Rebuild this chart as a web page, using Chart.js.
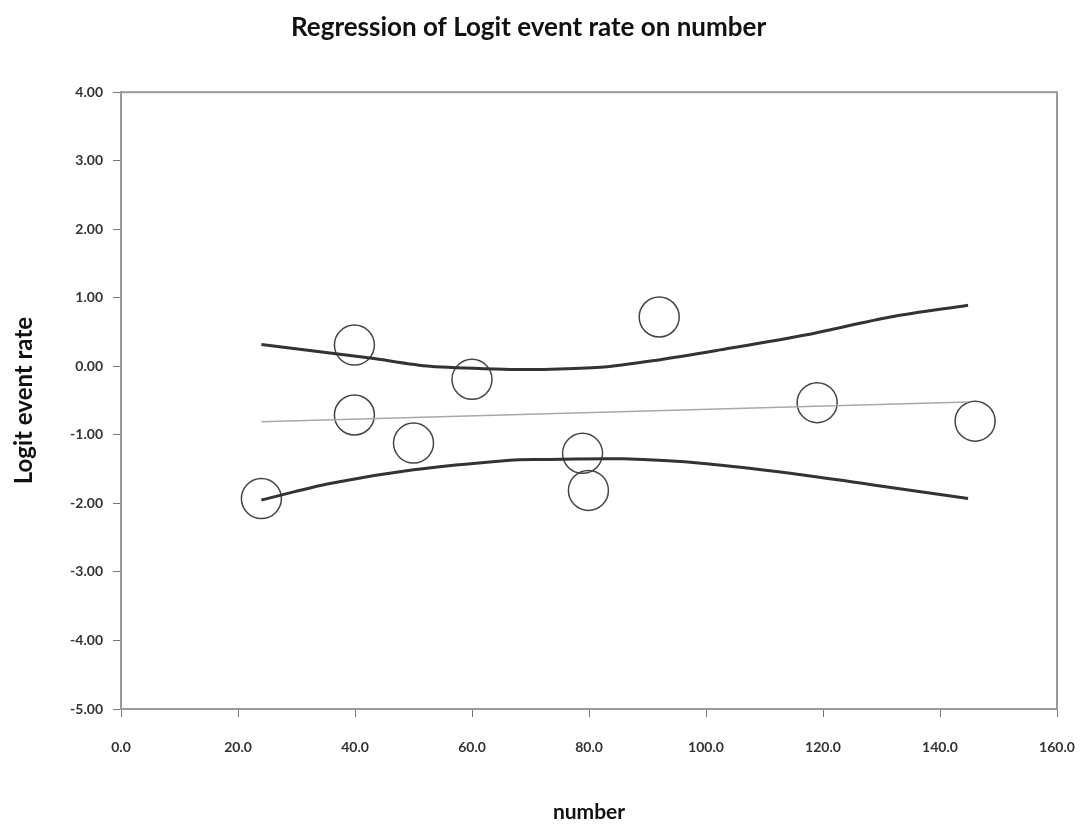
<!DOCTYPE html>
<html>
<head>
<meta charset="utf-8">
<title>Regression of Logit event rate on number</title>
<script src="https://cdn.jsdelivr.net/npm/chart.js@4"></script>
<style>
  body { margin: 0; background: #fff; }
</style>
</head>
<body>
<canvas id="grafico" width="1084" height="826"></canvas>
<script>
// observed studies
var numberX = [24.0, 39.9, 39.9, 50.0, 60.0, 78.9, 79.9, 92.0, 119.0, 146.0];
var logitY  = [-1.93, 0.31, -0.71, -1.12, -0.19, -1.27, -1.81, 0.72, -0.53, -0.80];

// fitted regression line
var fitX = [24.0, 144.8];
var fitY = [-0.81, -0.52];

// confidence band
var upperX = [24.0, 42.6, 52.8, 66.5, 71.6, 81.9, 91.6, 102.4, 117.2, 131.5, 144.8];
var upperY = [0.32, 0.12, 0.00, -0.045, -0.045, -0.015, 0.09, 0.24, 0.46, 0.72, 0.89];
var lowerX = [24.0, 35.7, 50.0, 66.5, 71.6, 85.9, 100.1, 114.4, 128.6, 144.8];
var lowerY = [-1.95, -1.71, -1.51, -1.37, -1.36, -1.35, -1.42, -1.56, -1.73, -1.93];

var xTicks = [0, 20, 40, 60, 80, 100, 120, 140, 160];
var yTicks = [-5, -4, -3, -2, -1, 0, 1, 2, 3, 4];

var pares = function (xs, ys) {
    var out = [];
    for (var i = 0; i < xs.length; i++) {
        out.push({ x: xs[i], y: ys[i] });
    }
    return out;
};

var moldura = {
    id: 'moldura',
    beforeDatasetsDraw: function (chart) {
        var a = chart.chartArea;
        var ctx = chart.ctx;
        ctx.save();
        ctx.strokeStyle = '#9a9a9a';
        ctx.lineWidth = 2;
        ctx.strokeRect(a.left, a.top, a.right - a.left, a.bottom - a.top);
        ctx.restore();
    }
};

var tickFont = { family: 'Lato', size: 14, weight: 'bold' };

var grafico = document.getElementById('grafico').getContext('2d');
var chart = new Chart(grafico, {
    type: 'scatter',
    data: {
        datasets: [
            {
                label: 'upper',
                data: pares(upperX, upperY),
                showLine: true,
                borderColor: '#333333',
                borderWidth: 3,
                pointRadius: 0,
                tension: 0.3
            },
            {
                label: 'lower',
                data: pares(lowerX, lowerY),
                showLine: true,
                borderColor: '#333333',
                borderWidth: 3,
                pointRadius: 0,
                tension: 0.3
            },
            {
                label: 'fit',
                data: pares(fitX, fitY),
                showLine: true,
                borderColor: '#a8a8a8',
                borderWidth: 1.5,
                pointRadius: 0
            },
            {
                label: 'studies',
                data: pares(numberX, logitY),
                pointRadius: 20,
                pointBorderWidth: 1.5,
                borderColor: '#444444',
                backgroundColor: 'transparent'
            }
        ]
    },
    options: {
        responsive: false,
        animation: false,
        layout: { padding: { left: 0, right: 27, top: 0, bottom: 0 } },
        plugins: {
            legend: { display: false },
            tooltip: { enabled: false },
            title: {
                display: true,
                text: 'Regression of Logit event rate on number',
                color: '#111',
                font: { family: 'Lato', size: 26, weight: 'bold' },
                padding: { top: 12, bottom: 49 }
            }
        },
        scales: {
            x: {
                type: 'linear',
                min: 0,
                max: 160,
                afterFit: function (scale) {
                    scale.height = 117;
                    scale.paddingLeft = 0;
                    scale.paddingRight = 0;
                },
                afterBuildTicks: function (scale) {
                    scale.ticks = xTicks.map(function (v) { return { value: v }; });
                },
                ticks: {
                    color: '#333',
                    font: tickFont,
                    padding: 22,
                    maxRotation: 0,
                    callback: function (v) { return v.toFixed(1); }
                },
                grid: { drawOnChartArea: false, tickLength: 8, color: '#777' },
                border: { color: '#9a9a9a', width: 2 },
                title: {
                    display: true,
                    text: 'number',
                    color: '#111',
                    font: { family: 'Lato', size: 21, weight: 'bold' },
                    padding: { top: 0, bottom: 1 }
                }
            },
            y: {
                type: 'linear',
                min: -5,
                max: 4,
                afterFit: function (scale) { scale.width = 121; },
                afterBuildTicks: function (scale) {
                    scale.ticks = yTicks.map(function (v) { return { value: v }; });
                },
                ticks: {
                    color: '#333',
                    font: tickFont,
                    padding: 10,
                    callback: function (v) { return v.toFixed(2); }
                },
                grid: { drawOnChartArea: false, tickLength: 8, color: '#777' },
                border: { color: '#9a9a9a', width: 2 },
                title: {
                    display: true,
                    text: 'Logit event rate',
                    color: '#111',
                    font: { family: 'Lato', size: 24, weight: 'bold' },
                    padding: { top: 10, bottom: 0 }
                }
            }
        }
    },
    plugins: [moldura]
});
</script>
</body>
</html>
